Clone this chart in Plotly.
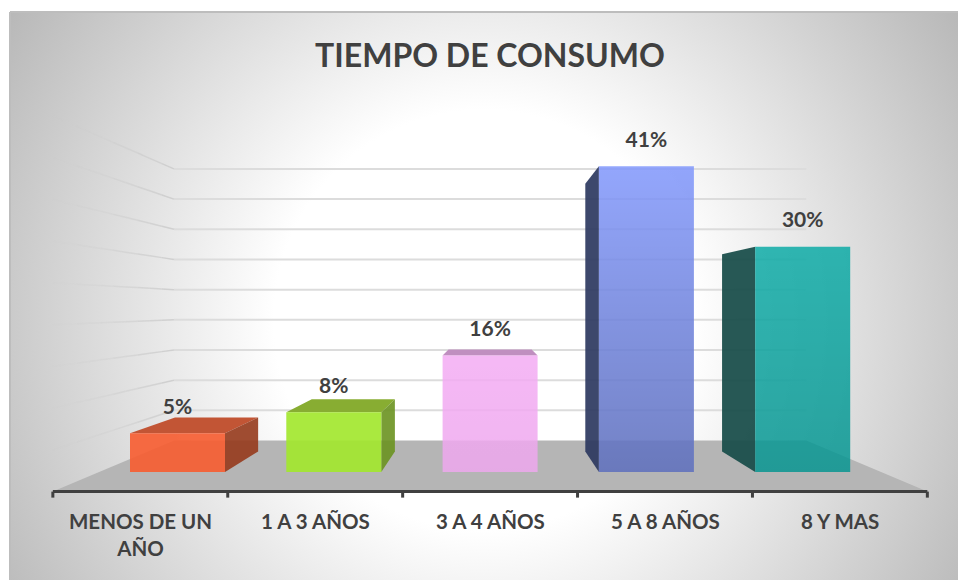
import plotly.graph_objects as go

# ---- data ----
categories = ["MENOS DE UN<br>AÑO", "1 A 3 AÑOS", "3 A 4 AÑOS", "5 A 8 AÑOS", "8 Y MAS"]
values = [5.2, 8.0, 15.6, 41.0, 30.2]
grid_values = [5, 10, 15, 20, 25, 30, 35, 40, 45]
title = "TIEMPO DE CONSUMO"

# ---- styles ----
front_colors = ["rgba(246,94,51,0.92)", "rgba(163,231,47,0.92)", "rgba(243,172,243,0.85)",
                "rgba(128,150,252,0.85)", "rgba(5,168,163,0.82)"]
darkening = [0.0, 0.0, 0.02, 0.22, 0.1]
top_colors = ["#c25535", "#88ad32", "#c08fc0", "#3e4a6e", "#245652"]
side_colors = ["rgba(150,58,28,0.9)", "rgba(106,146,32,0.9)", "rgba(170,120,170,0.9)",
               "rgba(44,56,96,0.92)", "rgba(26,78,74,0.94)"]
FONT = "Lato"
TEXT = "#404040"

# ---- scales: category step and value scale of the front plane of the bars ----
PX_STEP, PX_X0 = 156.3, 177.5
PX_UNIT, PX_BASE = 7.46, 472.0
BAR_W = 95 / PX_STEP


def xd(px):
    return (px - PX_X0) / PX_STEP


def yd(py):
    return (PX_BASE - py) / PX_UNIT


# ---- perspective of the 3D box ----
VX, VY = 2.0, 22.1
T_BAR, T_WALL, T_AXIS = 0.125, 0.191, -0.119
X_LEFT, X_RIGHT = -0.5, len(values) - 0.5


def proj(x, v, t):
    return VX + (x - VX) * (1 - t), VY + (v - VY) * (1 - t)


def poly(points, color, z, **kw):
    xs = [p[0] for p in points]
    ys = [p[1] for p in points]
    return go.Scatter(x=xs + xs[:1], y=ys + ys[:1], mode="lines", line=dict(width=0), fill="toself",
                      fillcolor=color, hoverinfo="skip", showlegend=False, zorder=z, **kw)


def seg(p, q, color, width, z):
    return go.Scatter(x=[p[0], q[0]], y=[p[1], q[1]], mode="lines", line=dict(color=color, width=width),
                      hoverinfo="skip", showlegend=False, zorder=z)


fig = go.Figure()

# background: circular grey-to-white gradient, clipped by the plot area
CX, CY, R = 484, 320, 600
fig.add_trace(poly([(xd(CX - R), yd(CY - R)), (xd(CX + R), yd(CY - R)),
                    (xd(CX + R), yd(CY + R)), (xd(CX - R), yd(CY + R))], "#fff", 0,
                   fillgradient=dict(type="radial",
                                     colorscale=[[0, "#ffffff"], [0.35, "#ffffff"], [1, "#b1b1b1"]])))

# floor
fig.add_trace(poly([proj(X_LEFT, 0, T_AXIS), proj(X_RIGHT, 0, T_AXIS),
                    proj(X_RIGHT, 0, T_WALL), proj(X_LEFT, 0, T_WALL)], "#b5b5b5", 1))

# back wall grid lines and their fading continuation on the side wall
N_FADE = 10
for g in grid_values:
    fig.add_trace(seg(proj(X_LEFT, g, T_WALL), proj(X_RIGHT, g, T_WALL), "#dcdcdc", 2, 1))
    for k in range(N_FADE):
        t0 = T_WALL + (T_AXIS - T_WALL) * k / N_FADE
        t1 = T_WALL + (T_AXIS - T_WALL) * (k + 1) / N_FADE
        a = 0.9 * (1 - k / N_FADE) ** 1.2
        fig.add_trace(seg(proj(X_LEFT, g, t0), proj(X_LEFT, g, t1), f"rgba(205,205,205,{a:.2f})", 1.5, 1))

# 3D faces of each bar
for i, v in enumerate(values):
    l, r = i - BAR_W / 2, i + BAR_W / 2
    if v < VY:
        fig.add_trace(poly([proj(l, v, 0), proj(r, v, 0), proj(r, v, T_BAR), proj(l, v, T_BAR)], top_colors[i], 2))
    if r < VX:
        fig.add_trace(poly([proj(r, 0, 0), proj(r, v, 0), proj(r, v, T_BAR), proj(r, 0, T_BAR)], side_colors[i], 2))
    if l > VX:
        fig.add_trace(poly([proj(l, 0, 0), proj(l, v, 0), proj(l, v, T_BAR), proj(l, 0, T_BAR)], side_colors[i], 2))

# front faces
fig.add_trace(go.Bar(x=list(range(len(values))), y=values, width=BAR_W, marker=dict(color=front_colors, line=dict(width=0)),
                     hovertext=categories, showlegend=False, zorder=3))

# vertical darkening of the front faces
for i, v in enumerate(values):
    l, r = i - BAR_W / 2, i + BAR_W / 2
    if darkening[i] > 0:
        fig.add_trace(poly([(l, 0), (r, 0), (r, v), (l, v)], "rgba(0,0,0,0)", 4,
                           fillgradient=dict(type="vertical",
                                             colorscale=[[0, f"rgba(0,0,0,{darkening[i]})"], [1, "rgba(0,0,0,0)"]])))

# category axis
fig.add_trace(seg(proj(X_LEFT, 0, T_AXIS), proj(X_RIGHT, 0, T_AXIS), "#404040", 3, 5))
for i in range(len(values) + 1):
    p = proj(i - 0.5, 0, T_AXIS)
    fig.add_trace(seg(p, (p[0], p[1] - 6 / PX_UNIT), "#404040", 3, 5))

# value labels
fig.add_trace(go.Scatter(x=list(range(len(values))), y=[v + 24.5 / PX_UNIT for v in values], mode="text",
                         text=[f"{v:.0f}%" for v in values], textposition="middle center",
                         textfont=dict(family=FONT, size=21, color=TEXT, weight="bold"),
                         hoverinfo="skip", showlegend=False, zorder=6))

# category labels
annotations = [dict(x=proj(i, 0, T_AXIS)[0], y=yd(507), text=c, showarrow=False, xanchor="center", yanchor="top",
                    align="center", font=dict(family=FONT, size=20.5, color=TEXT, weight="bold"))
               for i, c in enumerate(categories)]

fig.update_layout(
    width=958, height=580, margin=dict(l=10, r=0, t=12, b=0), autosize=False,
    paper_bgcolor="#ffffff", plot_bgcolor="#ffffff", showlegend=False, barmode="overlay",
    xaxis=dict(range=[xd(10), xd(958)], visible=False, fixedrange=True),
    yaxis=dict(range=[yd(580), yd(12)], visible=False, fixedrange=True),
    title=dict(text=title, x=490 / 958, xanchor="center", y=1 - 56 / 580, yanchor="middle",
               font=dict(family=FONT, size=32, color=TEXT, weight="bold")),
    annotations=annotations,
    shapes=[
        dict(type="line", xref="paper", yref="paper", x0=0, x1=0, y0=0, y1=1, line=dict(color="#bdbdbd", width=2), layer="above"),
        dict(type="line", xref="paper", yref="paper", x0=0, x1=1, y0=1, y1=1, line=dict(color="#bdbdbd", width=2), layer="above"),
    ],
)

fig.write_html("out.html", config={"displayModeBar": False}, post_script="document.body.style.margin='0';")
